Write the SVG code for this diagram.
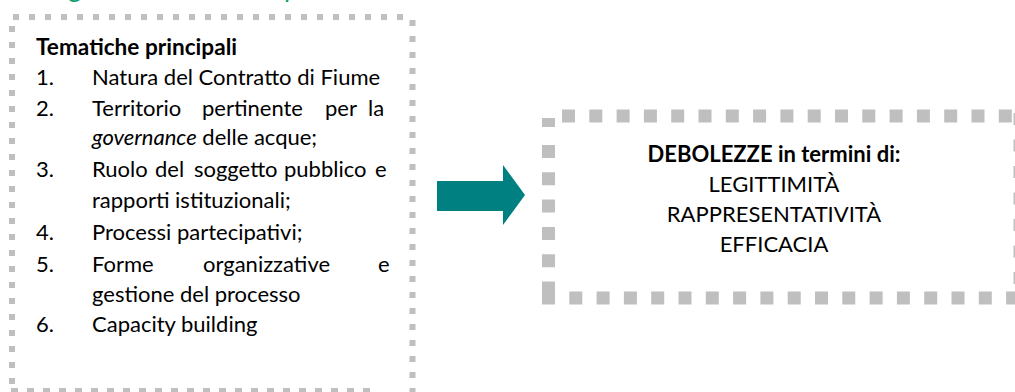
<svg xmlns="http://www.w3.org/2000/svg" width="1015" height="392" viewBox="0 0 1015 392">
<style>
.t{font-family:Lato,"Liberation Sans",sans-serif;font-size:22px;fill:#000}
.b{font-weight:bold}
.i{font-style:italic}
.ttl{font-family:Lato,"Liberation Sans",sans-serif;font-size:26px;fill:#12A06E}
.d1{stroke:#BFBFBF;stroke-width:6;fill:none;stroke-dasharray:6 10}
.d2{stroke:#BFBFBF;stroke-width:13;fill:none;stroke-dasharray:13 14.3}
</style>
<rect width="1015" height="392" fill="#fff"/>
<text class="ttl" y="-3"><tspan x="68">g</tspan><tspan x="284">p</tspan></text>
<g id="node-tematiche">
<line class="d1" x1="13" y1="17" x2="412" y2="17"/>
<line class="d1" x1="12" y1="26" x2="12" y2="392"/>
<line class="d1" x1="412.5" y1="20" x2="412.5" y2="392"/>
<line class="d1" x1="370" y1="391" x2="10" y2="391" style="stroke-dasharray:7 9"/>
<text class="t b" x="36" y="55" textLength="201" lengthAdjust="spacingAndGlyphs">Tematiche principali</text>
<text class="t" x="36" y="85">1.</text>
<text class="t" x="92" y="85">Natura del Contratto di Fiume</text>
<text class="t" x="36" y="116">2.</text>
<text class="t" y="116"><tspan x="92">Territorio</tspan><tspan x="202">pertinente</tspan><tspan x="325">per</tspan><tspan x="368">la</tspan></text>
<text class="t" x="92" y="145"><tspan class="i">governance</tspan> delle acque;</text>
<text class="t" x="36" y="177">3.</text>
<text class="t" y="177"><tspan x="92">Ruolo</tspan><tspan x="155">del</tspan><tspan x="194">soggetto</tspan><tspan x="284">pubblico</tspan><tspan x="375">e</tspan></text>
<text class="t" x="92" y="208">rapporti istituzionali;</text>
<text class="t" x="36" y="240">4.</text>
<text class="t" x="92" y="240">Processi partecipativi;</text>
<text class="t" x="36" y="272">5.</text>
<text class="t" y="272"><tspan x="92">Forme</tspan><tspan x="203">organizzative</tspan><tspan x="378">e</tspan></text>
<text class="t" x="92" y="302">gestione del processo</text>
<text class="t" x="36" y="332">6.</text>
<text class="t" x="92" y="332">Capacity building</text>
</g>
<g id="connectors">
<polygon points="437,181 503,181 503,165 525,195 503,225 503,211 437,211" fill="#008080"/>
</g>
<g id="node-debolezze">
<line class="d2" x1="562" y1="116" x2="1015" y2="116"/>
<rect x="542" y="118" width="13" height="9" fill="#BFBFBF"/>
<line class="d2" x1="548.5" y1="145" x2="548.5" y2="292"/>
<line class="d2" x1="542" y1="298" x2="1015" y2="298"/>
<line class="d2" x1="1020" y1="113" x2="1020" y2="292" style="stroke-dasharray:12 14.5"/>
<text class="t b" x="774" y="162" text-anchor="middle">DEBOLEZZE in termini di:</text>
<text class="t" x="774" y="192" text-anchor="middle">LEGITTIMITÀ</text>
<text class="t" x="774" y="222" text-anchor="middle">RAPPRESENTATIVITÀ</text>
<text class="t" x="774" y="252" text-anchor="middle">EFFICACIA</text>
</g>
</svg>
